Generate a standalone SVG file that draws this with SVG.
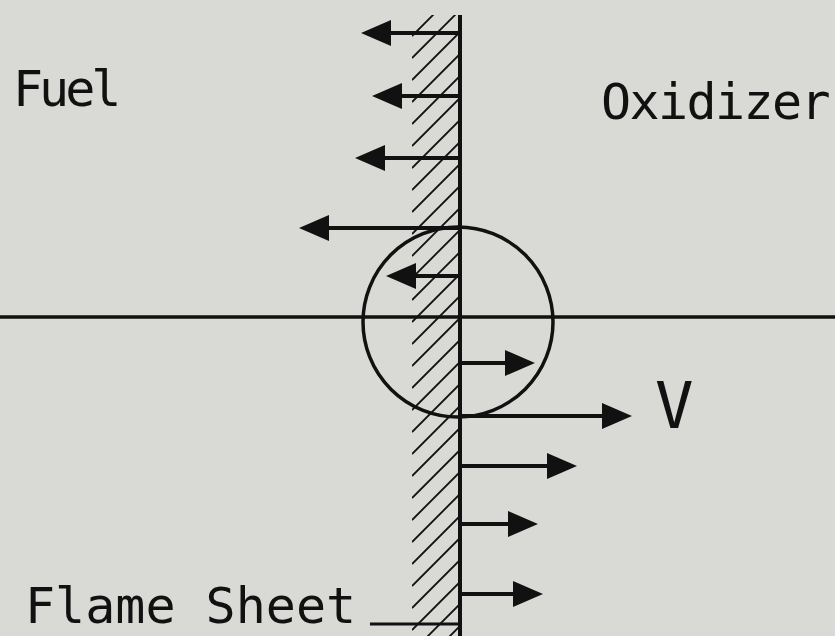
<svg xmlns="http://www.w3.org/2000/svg" width="835" height="636" viewBox="0 0 835 636">
<style>
.ink{stroke:#111;fill:none;stroke-linecap:butt}
.shaft{stroke:#111;stroke-width:4;fill:none}
.hatch{stroke:#111;stroke-width:1.8;fill:none}
.lbl{font-family:"DejaVu Sans Mono","Liberation Mono",monospace;fill:#111}
</style>
<defs>
<marker id="ah" viewBox="0 0 30 26" refX="10" refY="13" markerWidth="30" markerHeight="26" markerUnits="userSpaceOnUse" orient="auto">
<path d="M0,0 L30,13 L0,26 Z" fill="#111"/>
</marker>
<clipPath id="strip"><rect x="412" y="15" width="48" height="621"/></clipPath>
</defs>
<rect width="835" height="636" fill="#d9dad5"/>
<g id="flame-sheet">
<g clip-path="url(#strip)" class="hatch">
<path d="M412,36 L460,-12 M412,58 L460,10 M412,80 L460,32 M412,102 L460,54 M412,124 L460,76 M412,146 L460,98 M412,168 L460,120 M412,190 L460,142 M412,212 L460,164 M412,234 L460,186 M412,256 L460,208 M412,278 L460,230 M412,300 L460,252 M412,322 L460,274 M412,344 L460,296 M412,366 L460,318 M412,388 L460,340 M412,410 L460,362 M412,432 L460,384 M412,454 L460,406 M412,476 L460,428 M412,498 L460,450 M412,520 L460,472 M412,542 L460,494 M412,564 L460,516 M412,586 L460,538 M412,608 L460,560 M412,630 L460,582 M412,652 L460,604 M412,674 L460,626"/>
</g>
<line class="ink" x1="460" y1="15" x2="460" y2="636" stroke-width="4"/>
</g>
<g id="axis">
<line class="ink" x1="0" y1="317" x2="835" y2="317" stroke-width="3.5"/>
</g>
<g id="circle">
<circle class="ink" cx="458" cy="322" r="95" stroke-width="3.5"/>
</g>
<g id="connectors">
<line class="shaft" x1="460" y1="33" x2="381" y2="33" marker-end="url(#ah)"/>
<line class="shaft" x1="460" y1="96" x2="392" y2="96" marker-end="url(#ah)"/>
<line class="shaft" x1="460" y1="158" x2="375" y2="158" marker-end="url(#ah)"/>
<line class="shaft" x1="460" y1="228" x2="319" y2="228" marker-end="url(#ah)"/>
<line class="shaft" x1="460" y1="276" x2="406" y2="276" marker-end="url(#ah)"/>
<line class="shaft" x1="460" y1="363" x2="515" y2="363" marker-end="url(#ah)"/>
<line class="shaft" x1="460" y1="416" x2="612" y2="416" marker-end="url(#ah)"/>
<line class="shaft" x1="460" y1="466" x2="557" y2="466" marker-end="url(#ah)"/>
<line class="shaft" x1="460" y1="524" x2="518" y2="524" marker-end="url(#ah)"/>
<line class="shaft" x1="460" y1="594" x2="523" y2="594" marker-end="url(#ah)"/>
<line class="ink" x1="370" y1="624" x2="458" y2="624" stroke-width="3"/>
</g>
<g id="labels">
<text id="fuel" class="lbl" x="13" y="106" font-size="50" letter-spacing="-4">Fuel</text>
<text id="oxidizer" class="lbl" x="601" y="119" font-size="50" letter-spacing="-1.6">Oxidizer</text>
<text id="v" class="lbl" x="655" y="428" font-size="64">V</text>
<text id="flame" class="lbl" x="25" y="623" font-size="50">Flame Sheet</text>
</g>
</svg>
